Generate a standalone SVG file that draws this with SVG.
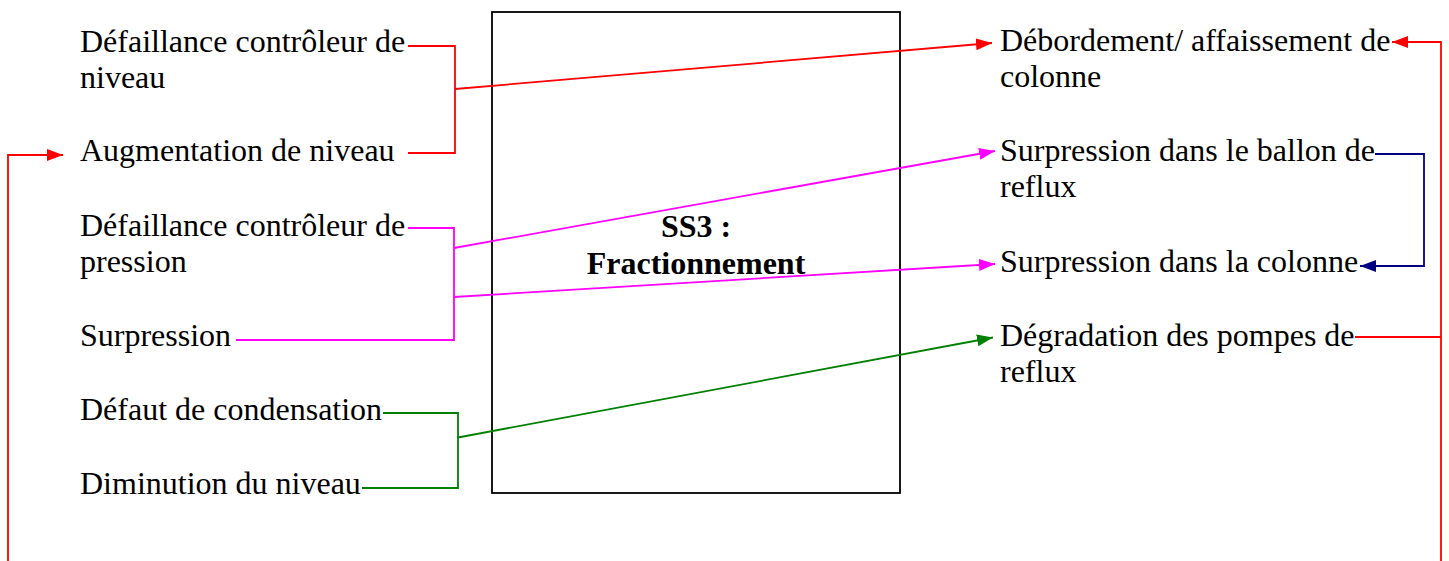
<svg xmlns="http://www.w3.org/2000/svg" width="1449" height="561" viewBox="0 0 1449 561">
  <style>
    text { font-family: "Liberation Serif", "Times New Roman", serif; font-size: 32px; fill: #000; }
    .title { font-weight: bold; text-anchor: middle; }
    .c { fill: none; stroke-width: 1.8; }
    .red { stroke: #FF0000; }
    .mag { stroke: #FF00FF; }
    .grn { stroke: #008000; }
    .navy { stroke: #000080; }
  </style>
  <defs>
    <marker id="ah-red" markerUnits="userSpaceOnUse" markerWidth="17" markerHeight="13" refX="16" refY="6" orient="auto">
      <path d="M0,0 L16,6 L0,12 Z" fill="#FF0000"/>
    </marker>
    <marker id="ah-mag" markerUnits="userSpaceOnUse" markerWidth="17" markerHeight="13" refX="16" refY="6" orient="auto">
      <path d="M0,0 L16,6 L0,12 Z" fill="#FF00FF"/>
    </marker>
    <marker id="ah-grn" markerUnits="userSpaceOnUse" markerWidth="17" markerHeight="13" refX="16" refY="6" orient="auto">
      <path d="M0,0 L16,6 L0,12 Z" fill="#008000"/>
    </marker>
    <marker id="ah-navy" markerUnits="userSpaceOnUse" markerWidth="17" markerHeight="13" refX="16" refY="6" orient="auto">
      <path d="M0,0 L16,6 L0,12 Z" fill="#000080"/>
    </marker>
  </defs>

  <rect width="1449" height="561" fill="#fff"/>

  <!-- central subsystem box -->
  <g id="ss3">
    <rect x="492" y="12" width="408" height="481" fill="none" stroke="#000" stroke-width="1.8"/>
    <text class="title" x="696" y="237">SS3 :</text>
    <text class="title" x="696" y="274">Fractionnement</text>
  </g>

  <!-- causes (left) -->
  <g id="cause-ctrl-niveau">
    <text x="80" y="52">Défaillance contrôleur de</text>
    <text x="80" y="88">niveau</text>
  </g>
  <g id="cause-augmentation-niveau">
    <text x="80" y="161">Augmentation de niveau</text>
  </g>
  <g id="cause-ctrl-pression">
    <text x="80" y="236">Défaillance contrôleur de</text>
    <text x="80" y="272">pression</text>
  </g>
  <g id="cause-surpression">
    <text x="80" y="346">Surpression</text>
  </g>
  <g id="cause-condensation">
    <text x="80" y="420">Défaut de condensation</text>
  </g>
  <g id="cause-diminution-niveau">
    <text x="80" y="494">Diminution du niveau</text>
  </g>

  <!-- consequences (right) -->
  <g id="effet-debordement">
    <text x="1000" y="51">Débordement/ affaissement de</text>
    <text x="1000" y="87">colonne</text>
  </g>
  <g id="effet-surpression-ballon">
    <text x="1000" y="161">Surpression dans le ballon de</text>
    <text x="1000" y="197">reflux</text>
  </g>
  <g id="effet-surpression-colonne">
    <text x="1000" y="272">Surpression dans la colonne</text>
  </g>
  <g id="effet-pompes">
    <text x="1000" y="346">Dégradation des pompes de</text>
    <text x="1000" y="382">reflux</text>
  </g>

  <!-- connectors -->
  <g id="connectors">
    <!-- level group -> overflow -->
    <path class="c red" d="M408,46 H455 V153 H408"/>
    <path class="c red" d="M455,89 L992,43" marker-end="url(#ah-red)"/>
    <!-- pressure group -> overpressures -->
    <path class="c mag" d="M408,228 H454 V340 H236"/>
    <path class="c mag" d="M454,248 L995,151" marker-end="url(#ah-mag)"/>
    <path class="c mag" d="M454,297 L995,264" marker-end="url(#ah-mag)"/>
    <!-- condensation group -> pumps -->
    <path class="c grn" d="M383,413 H458 V488 H362"/>
    <path class="c grn" d="M458,437.5 L993,337.5" marker-end="url(#ah-grn)"/>
    <!-- drum overpressure -> column overpressure -->
    <path class="c navy" d="M1375,154 H1424 V266 H1360" marker-end="url(#ah-navy)"/>
    <!-- pump degradation feedback loops -->
    <path class="c red" d="M1355,337 H1441"/>
    <path class="c red" d="M1441,561 V42 H1392" marker-end="url(#ah-red)"/>
    <path class="c red" d="M8,561 V155 H63" marker-end="url(#ah-red)"/>
  </g>
</svg>
